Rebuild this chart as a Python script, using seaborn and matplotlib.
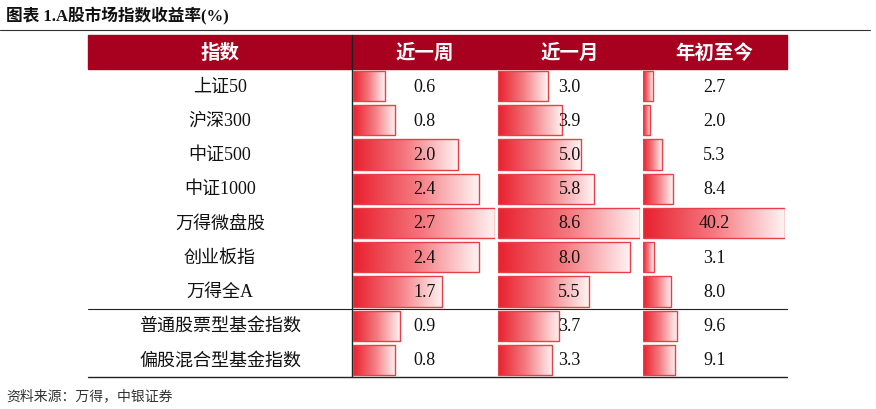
import numpy as np
import pandas as pd
import matplotlib
matplotlib.use("Agg")
import matplotlib.pyplot as plt
import seaborn as sns
from matplotlib.colors import LinearSegmentedColormap

names = ["上证50", "沪深300", "中证500", "中证1000", "万得微盘股", "创业板指", "万得全A",
         "普通股票型基金指数", "偏股混合型基金指数"]
week = [0.6, 0.8, 2.0, 2.4, 2.7, 2.4, 1.7, 0.9, 0.8]
month = [3.0, 3.9, 5.0, 5.8, 8.6, 8.0, 5.5, 3.7, 3.3]
ytd = [2.7, 2.0, 5.3, 8.4, 40.2, 3.1, 8.0, 9.6, 9.1]
headers = ["指数", "近一周", "近一月", "年初至今"]

sns.set_theme(style="white")
FAM = ["Liberation Serif", "Noto Sans CJK SC", "DejaVu Sans"]
plt.rcParams["font.family"] = FAM

W, H = 876, 410
fig = plt.figure(figsize=(W/100, H/100), dpi=100)
def rect(x0, y0, x1, y1):
    return [x0/W, 1-y1/H, (x1-x0)/W, (y1-y0)/H]

bg = fig.add_axes([0, 0, 1, 1], zorder=0); bg.set_xlim(0, W); bg.set_ylim(H, 0); bg.axis("off")
DARK = "#A8001F"
bg.text(6, 16, "图表 1.A股市场指数收益率(%)", fontsize=12, fontweight="bold", va="center", color="#111")
bg.plot([0, 870], [31, 31], color="#333", lw=0.8)
bg.add_patch(plt.Rectangle((88, 36), 699, 34, color=DARK))
cols = [88, 352, 497, 642, 787]
for i, h in enumerate(headers):
    bg.text((cols[i]+cols[i+1])/2, 53, h, color="white", fontsize=14, fontweight="bold", ha="center", va="center")
bg.plot([352, 352], [36, 378], color="#222", lw=1)
bg.plot([88, 787], [310, 310], color="#222", lw=0.8)
bg.plot([88, 787], [378, 378], color="#222", lw=1)
bg.text(6, 396, "资料来源：万得，中银证券", fontsize=10, style="italic", va="center", color="#333")

top, rh = 70, (378-70)/9
for r, n in enumerate(names):
    bg.text(220, top+rh*(r+0.5), n, fontsize=13, ha="center", va="center", color="#111")

cmap = LinearSegmentedColormap.from_list("g", ["#E8202E", "#F47A80", "#FFF4F4"])
grad = np.linspace(0, 1, 256).reshape(1, -1)
for ci, vals in enumerate([week, month, ytd]):
    ax = fig.add_axes(rect(cols[ci+1]+1, top, cols[ci+2]-2, 378), zorder=2)
    df = pd.DataFrame({"name": names, "v": vals})
    sns.barplot(data=df, x="v", y="name", orient="h", ax=ax, width=0.88,
                color="#E8404A", edgecolor="#E8404A", linewidth=1)
    ax.set_xlim(0, max(vals)); ax.set_ylim(8.5, -0.5)
    ax.axis("off"); ax.patch.set_alpha(0)
    for p in list(ax.patches):
        x, y, w, h = p.get_x(), p.get_y(), p.get_width(), p.get_height()
        p.set_facecolor("none"); p.set_edgecolor("#E8404A"); p.set_zorder(2)
        im = ax.imshow(grad, cmap=cmap, extent=[x, x+w, y+h, y], aspect="auto", zorder=1)
        im.set_clip_path(p)
    ax.set_xlim(0, max(vals)); ax.set_ylim(8.5, -0.5)

txt = fig.add_axes([0, 0, 1, 1], zorder=5); txt.set_xlim(0, W); txt.set_ylim(H, 0); txt.axis("off")
txt.patch.set_alpha(0)
for ci, vals in enumerate([week, month, ytd]):
    cx = (cols[ci+1]+cols[ci+2])/2
    for r, v in enumerate(vals):
        txt.text(cx, top+rh*(r+0.5), f"{v:.1f}", fontsize=13, ha="center", va="center", color="#111")
fig.savefig("out.png", dpi=100)
